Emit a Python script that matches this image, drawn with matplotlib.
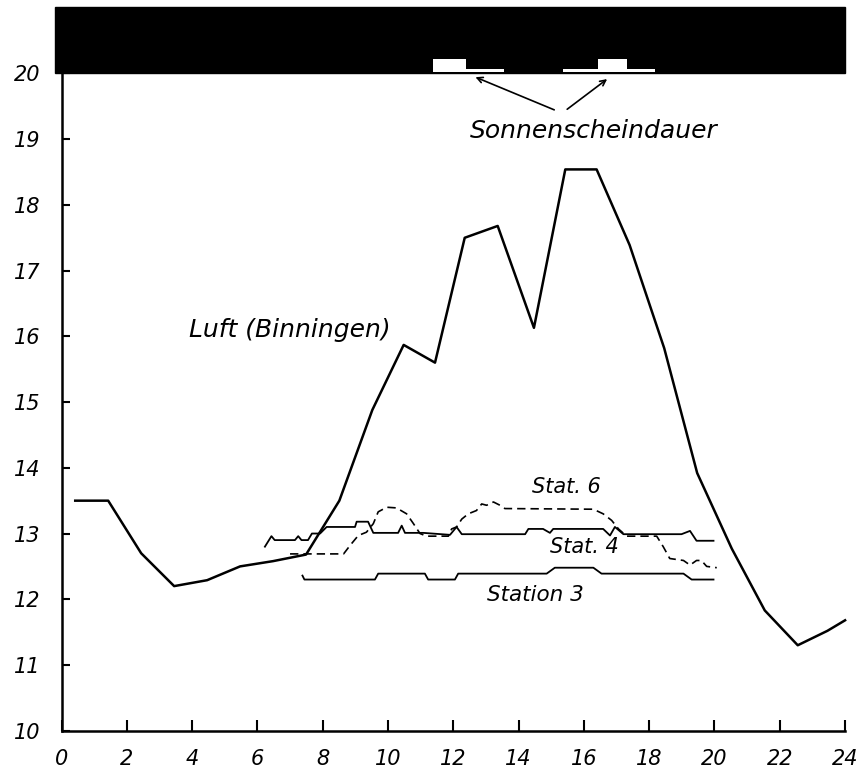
#!/usr/bin/env python3

"""
plot.py

Tagesgang der Temperatur: Luft (Binningen) und Stationen 3, 4, 6
"""

import matplotlib.pyplot as plt

# Luft (Binningen), stuendliche Werte
luft_x = [0.42, 1.43, 2.44, 3.45, 4.46, 5.47, 6.48, 7.49, 8.51, 9.52, 10.48,
          11.44, 12.35, 13.36, 14.47, 15.43, 16.39, 17.40, 18.46, 19.47,
          20.53, 21.54, 22.55, 23.46, 24.0]
luft_y = [13.5, 13.5, 12.7, 12.2, 12.29, 12.5, 12.58, 12.68, 13.5, 14.88,
          15.87, 15.6, 17.5, 17.68, 16.13, 18.54, 18.54, 17.39, 15.82, 13.92,
          12.77, 11.83, 11.3, 11.52, 11.68]

# Station 3
st3_x = [7.38, 7.44, 9.60, 9.70, 11.13, 11.23, 12.05, 12.15, 14.86, 15.11,
         16.29, 16.54, 19.05, 19.30, 19.97]
st3_y = [12.36, 12.30, 12.30, 12.39, 12.39, 12.30, 12.30, 12.39, 12.39,
         12.48, 12.48, 12.39, 12.39, 12.30, 12.30]

# Stat. 4
st4_x = [6.23, 6.43, 6.53, 7.15, 7.25, 7.35, 7.55, 7.67, 7.92, 8.12, 8.99,
         9.04, 9.39, 9.55, 10.31, 10.42, 10.52, 11.08, 11.90, 12.10, 12.26,
         14.20, 14.30, 14.75, 14.96, 15.06, 16.59, 16.80, 16.95, 17.21,
         18.99, 19.25, 19.45, 19.97]
st4_y = [12.80, 12.96, 12.90, 12.90, 12.96, 12.90, 12.90, 13.00, 13.00,
         13.10, 13.10, 13.18, 13.18, 13.01, 13.01, 13.12, 13.01, 13.01,
         12.98, 13.10, 12.99, 12.99, 13.07, 13.07, 13.01, 13.07, 13.07,
         12.97, 13.10, 12.99, 12.99, 13.04, 12.89, 12.89]

# Stat. 6 (gestrichelt)
st6_x = [7.00, 8.64, 8.84, 9.09, 9.34, 9.55, 9.70, 9.96, 10.26, 10.57,
         10.78, 10.98, 11.18, 11.85, 11.95, 12.10, 12.26, 12.46, 12.71,
         12.87, 13.02, 13.23, 13.43, 13.58, 16.29, 16.59, 16.85, 17.06,
         17.31, 18.23, 18.43, 18.63, 19.05, 19.25, 19.45, 19.60, 19.76,
         20.07]
st6_y = [12.69, 12.69, 12.82, 12.97, 13.02, 13.15, 13.33, 13.40, 13.39,
         13.30, 13.15, 13.00, 12.96, 12.96, 13.07, 13.10, 13.22, 13.30,
         13.35, 13.45, 13.43, 13.48, 13.43, 13.38, 13.37, 13.30, 13.20,
         13.07, 12.96, 12.96, 12.80, 12.62, 12.59, 12.52, 12.59, 12.59,
         12.50, 12.48]

# Sonnenscheindauer (weisse Balken im schwarzen Band)
sun_start = [11.39, 12.39, 15.35, 16.44, 17.31]
sun_width = [1.0, 1.16, 1.09, 0.87, 0.87]
sun_height = [0.21, 0.046, 0.046, 0.21, 0.046]

x_ticks = list(range(0, 25, 2))
y_ticks = list(range(10, 21))

plt.rcParams['font.family'] = ['DejaVu Sans']
plt.rcParams['font.style'] = 'italic'

fig = plt.figure(figsize=(8.59, 7.69), dpi=100)
ax = fig.add_axes([0.0716, 0.0498, 0.9198, 0.941])
ax.set_xlim(0, 24.2)
ax.set_ylim(10, 21.01)

# schwarzes Band oberhalb 20
ax.add_patch(plt.Rectangle((-0.2, 20.0), 24.2, 1.01, color='black',
                           clip_on=False, zorder=1))
ax.bar(sun_start, sun_height, width=sun_width, bottom=20.015, align='edge',
       color='white', zorder=2)

ax.plot(luft_x, luft_y, color='black', lw=1.8, zorder=3)
ax.plot(st3_x, st3_y, color='black', lw=1.3, zorder=3)
ax.plot(st4_x, st4_y, color='black', lw=1.3, zorder=3)
ax.plot(st6_x, st6_y, color='black', lw=1.2, ls=(0, (5, 3)), zorder=3)

ax.text(3.92, 16.1, 'Luft (Binningen)', fontsize=18, va='center')
ax.text(14.4, 13.71, 'Stat. 6', fontsize=15, va='center')
ax.text(14.96, 12.8, 'Stat. 4', fontsize=15, va='center')
ax.text(13.02, 12.06, 'Station 3', fontsize=15.5, va='center')
ax.text(12.5, 19.12, 'Sonnenscheindauer', fontsize=18, va='center')
ax.annotate('', xy=(12.6, 19.96), xytext=(15.17, 19.43),
            arrowprops=dict(arrowstyle='->', color='black', lw=1.2))
ax.annotate('', xy=(16.78, 19.94), xytext=(15.42, 19.43),
            arrowprops=dict(arrowstyle='->', color='black', lw=1.2))

for side in ['top', 'right']:
    ax.spines[side].set_visible(False)
ax.spines['left'].set_bounds(10, 20)
ax.spines['bottom'].set_bounds(0, 24)
ax.spines['left'].set_linewidth(1.8)
ax.spines['bottom'].set_linewidth(1.8)

ax.set_xticks(x_ticks)
ax.set_yticks(y_ticks)
ax.tick_params(axis='x', direction='in', length=8, width=1.5, pad=13,
               labelsize=15)
ax.tick_params(axis='y', direction='in', length=6, width=1.5, pad=15,
               labelsize=15)

fig.savefig('out.png', dpi=100)
